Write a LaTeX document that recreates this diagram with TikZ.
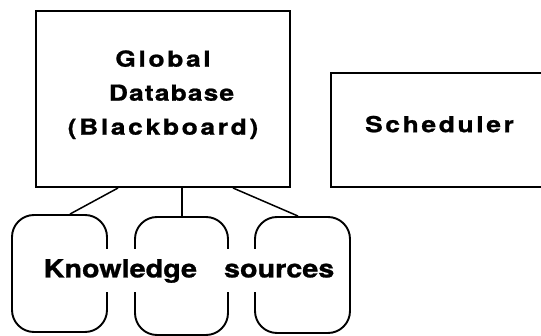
\documentclass[tikz,border=0pt]{standalone}
\usepackage{fontspec}
\setmainfont{TeX Gyre Heros}[FakeStretch=1.2, LetterSpace=12, FakeBold=1]
\newfontfamily\ksfont{TeX Gyre Heros}[FakeStretch=1.15, LetterSpace=0, FakeBold=1]
\begin{document}
\begin{tikzpicture}[x=1pt,y=-1pt,
  box/.style={draw=black, line width=2pt, minimum width=#1},
  ks/.style={draw=black, line width=1.9pt, rounded corners=22pt},
  link/.style={draw=black, line width=1.5pt},
  lbl/.style={font=\fontsize{22}{34}\selectfont\bfseries},
  kslbl/.style={font=\ksfont\fontsize{25}{30}\selectfont\bfseries}]
\clip (0,0) rectangle (541,336);
\useasboundingbox (0,0) rectangle (541,336);
\node[box=254pt, minimum height=176pt, lbl, align=center] (db) at (163,99)
  {Global\\\hspace*{17pt}{\addfontfeature{LetterSpace=5}Database}\\(Blackboard)\rule[-13pt]{0pt}{13pt}};
\node[box=217pt, minimum height=114pt, lbl] (sch) at (439.5,130) {Scheduler\rule[-12pt]{0pt}{12pt}};
\node[ks, minimum width=95pt, minimum height=117pt] (ks1) at (59.5,273.5) {};
\node[ks, minimum width=93pt, minimum height=118pt] (ks2) at (181.5,276) {};
\node[ks, minimum width=95pt, minimum height=116pt] (ks3) at (302.5,275) {};
\node[kslbl, fill=white, inner xsep=2pt, minimum height=43pt] (kstext) at (189,271)
  {Knowledge\hspace{27pt}sources};
\draw[link] ([xshift=-45pt]db.south) -- ([xshift=10.5pt]ks1.north);
\draw[link] ([xshift=19pt]db.south) -- ([xshift=0.5pt]ks2.north);
\draw[link] ([xshift=70pt]db.south) -- ([xshift=-4.5pt]ks3.north);
\end{tikzpicture}
\end{document}
